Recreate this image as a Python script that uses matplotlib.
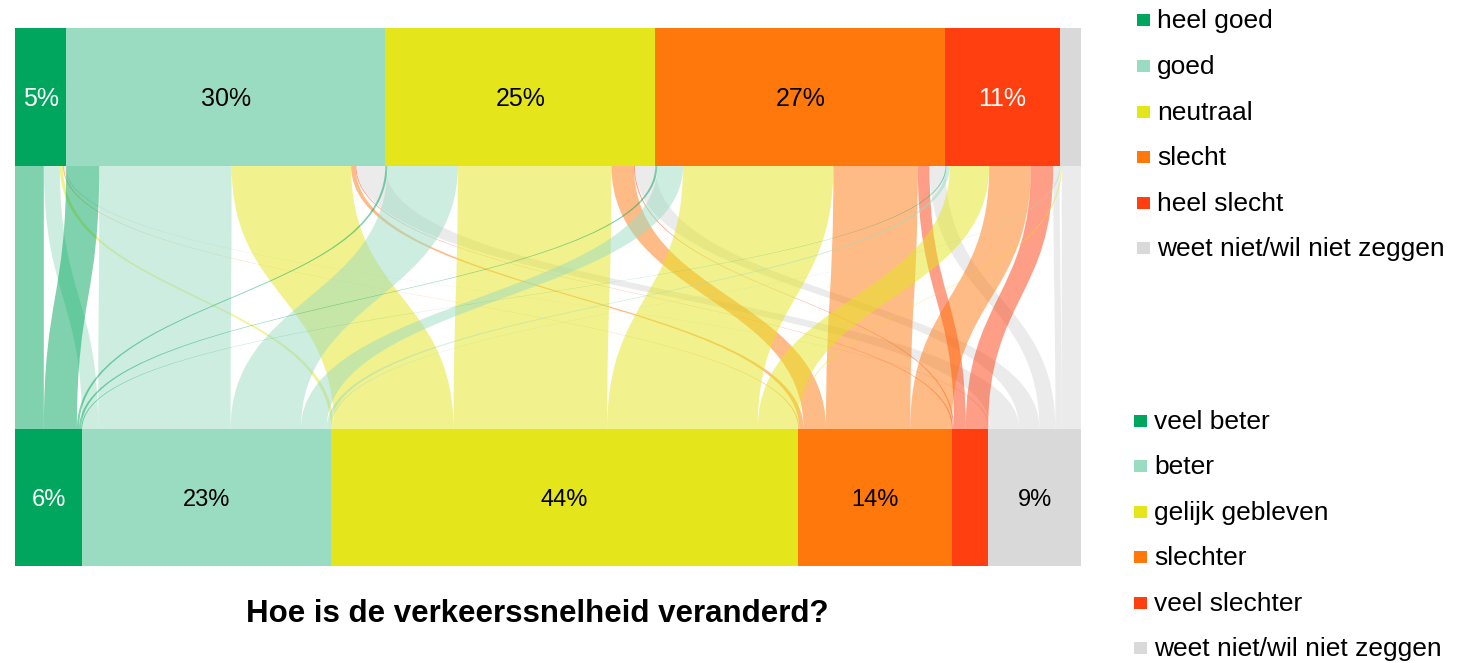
import matplotlib
matplotlib.use("Agg")
import matplotlib.pyplot as plt
from matplotlib.path import Path
from matplotlib.patches import PathPatch, Rectangle
from matplotlib import font_manager
import numpy as np

# ---------------- data ----------------
top_categories = ["heel goed", "goed", "neutraal", "slecht", "heel slecht",
                  "weet niet/wil niet zeggen"]
bottom_categories = ["veel beter", "beter", "gelijk gebleven", "slechter",
                     "veel slechter", "weet niet/wil niet zeggen"]
top_labels = ["5%", "30%", "25%", "27%", "11%", ""]
bottom_labels = ["6%", "23%", "44%", "14%", "", "9%"]

# flows (% of respondents): rows = top category, columns = bottom category
flow_heel_goed = [2.7, 1.5, 0.3, 0.1, 0.0, 0.2]
flow_goed = [3.1, 12.4, 11.2, 0.4, 0.1, 2.7]
flow_neutraal = [0.2, 6.6, 14.4, 2.1, 0.1, 1.9]
flow_slecht = [0.2, 2.4, 14.1, 7.9, 1.1, 1.5]
flow_heel_slecht = [0.1, 0.3, 3.7, 3.9, 2.1, 0.6]
flow_weet_niet = [0.0, 0.1, 0.1, 0.0, 0.0, 1.8]

colors = ["#00a65d", "#9adcc2", "#e5e51c", "#ff780c", "#ff3f0f", "#d9d9d9"]
top_text_colors = ["white", "black", "black", "black", "white", "black"]
bottom_text_colors = ["white", "black", "black", "black", "white", "black"]

title = "Hoe is de verkeerssnelheid veranderd?"

# ---------------- fonts ----------------
def has_font(name):
    try:
        font_manager.findfont(font_manager.FontProperties(family=name),
                              fallback_to_default=False)
        return True
    except Exception:
        return False

base_font = "Liberation Sans" if has_font("Liberation Sans") else "DejaVu Sans"
narrow_font = "Liberation Sans Narrow" if has_font("Liberation Sans Narrow") else base_font
plt.rcParams["font.family"] = [base_font, "DejaVu Sans"]

# ---------------- figure ----------------
W, H = 1463, 663
fig = plt.figure(figsize=(W / 100, H / 100), dpi=100)

# chart axes (pixel-like units inside)
x0_px, x1_px, y_top_px, y_bot_px = 15, 1081, 28, 566
ax = fig.add_axes([x0_px / W, 1 - y_bot_px / H, (x1_px - x0_px) / W,
                   (y_bot_px - y_top_px) / H])
ax.axis("off")

M = np.array([flow_heel_goed, flow_goed, flow_neutraal, flow_slecht,
              flow_heel_slecht, flow_weet_niet])
total = M.sum()
row_tot = M.sum(axis=1)
col_tot = M.sum(axis=0)

ax.set_xlim(0, total)
ax.set_ylim(0, y_bot_px - y_top_px)

bot_bar = (0, 137)        # bottom bar y-range
top_bar = (400, 538)      # top bar y-range
flow_y0, flow_y1 = bot_bar[1], top_bar[0]

top_start = np.concatenate([[0], np.cumsum(row_tot)[:-1]])
bot_start = np.concatenate([[0], np.cumsum(col_tot)[:-1]])

# bars
for i in range(6):
    ax.add_patch(Rectangle((top_start[i], top_bar[0]), row_tot[i],
                           top_bar[1] - top_bar[0], facecolor=colors[i],
                           edgecolor="none", zorder=3))
    if top_labels[i]:
        ax.text(top_start[i] + row_tot[i] / 2, (top_bar[0] + top_bar[1]) / 2 - 2,
                top_labels[i], ha="center", va="center", fontsize=18,
                color=top_text_colors[i], zorder=4)
for j in range(6):
    ax.add_patch(Rectangle((bot_start[j], bot_bar[0]), col_tot[j],
                           bot_bar[1] - bot_bar[0], facecolor=colors[j],
                           edgecolor="none", zorder=3))
    if bottom_labels[j]:
        ax.text(bot_start[j] + col_tot[j] / 2, (bot_bar[0] + bot_bar[1]) / 2 - 2,
                bottom_labels[j], ha="center", va="center", fontsize=17,
                family=[narrow_font, "DejaVu Sans"],
                color=bottom_text_colors[j], zorder=4)

# flows
bot_pos = np.zeros((6, 6))
for j in range(6):
    acc = bot_start[j]
    for i in range(6):
        bot_pos[i, j] = acc
        acc += M[i, j]

ym = (flow_y0 + flow_y1) / 2
for i in range(6):
    acc = top_start[i]
    for j in range(6):
        w = M[i, j]
        if w <= 0:
            continue
        ta, tb = acc, acc + w
        ba, bb = bot_pos[i, j], bot_pos[i, j] + w
        acc += w
        verts = [(ta, flow_y1), (ta, ym), (ba, ym), (ba, flow_y0),
                 (bb, flow_y0), (bb, ym), (tb, ym), (tb, flow_y1),
                 (ta, flow_y1)]
        codes = [Path.MOVETO, Path.CURVE4, Path.CURVE4, Path.CURVE4,
                 Path.LINETO, Path.CURVE4, Path.CURVE4, Path.CURVE4,
                 Path.CLOSEPOLY]
        ax.add_patch(PathPatch(Path(verts, codes), facecolor=colors[j],
                               edgecolor="none", alpha=0.5, zorder=2))

# ---------------- overlay for title & legends ----------------
ov = fig.add_axes([0, 0, 1, 1])
ov.set_xlim(0, W)
ov.set_ylim(H, 0)
ov.axis("off")
ov.patch.set_alpha(0)

ov.text(537, 614, title, ha="center", va="center", fontsize=22.5,
        fontweight="bold", color="black")

top_leg_y = [20, 66, 112, 157, 203, 248]
bot_leg_y = [421, 466, 512, 557, 603, 648]
for k in range(6):
    ov.add_patch(Rectangle((1137, top_leg_y[k] - 6), 13, 12,
                           facecolor=colors[k], edgecolor="none"))
    ov.text(1157, top_leg_y[k] + 1, top_categories[k], ha="left", va="center",
            fontsize=19, color="black")
    ov.add_patch(Rectangle((1134, bot_leg_y[k] - 6), 13, 12,
                           facecolor=colors[k], edgecolor="none"))
    ov.text(1154, bot_leg_y[k] + 1, bottom_categories[k], ha="left", va="center",
            fontsize=19, color="black")

fig.savefig("out.png", dpi=100)
